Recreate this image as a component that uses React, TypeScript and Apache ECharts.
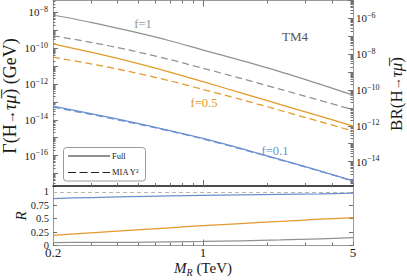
import React, { useEffect, useRef } from "react";
import * as echarts from "echarts";

// ---- data ----
const massTeV = [0.2, 0.3, 0.45, 0.7, 1, 1.5, 2.3, 3.5, 5];
// log10 of Γ(H→τμ̄) in GeV
const log10GammaFullF1 = [-8.14, -8.55, -9.02, -9.58, -10.1, -10.68, -11.32, -12.01, -12.62];
const log10GammaMiaF1 = [-9.3, -9.67, -10.09, -10.63, -11.12, -11.68, -12.3, -12.91, -13.44];
const log10GammaFullF05 = [-9.76, -10.22, -10.72, -11.33, -11.87, -12.49, -13.15, -13.79, -14.35];
const log10GammaMiaF05 = [-10.5, -10.87, -11.29, -11.82, -12.3, -12.86, -13.48, -14.1, -14.63];
const log10GammaFullF01 = [-13.23, -13.65, -14.09, -14.6, -15.04, -15.6, -16.23, -16.85, -17.41];
const log10GammaMiaF01 = [-13.29, -13.7, -14.13, -14.63, -15.07, -15.63, -16.25, -16.87, -17.42];
// R = MIA / Full
const ratioF1 = [0.055, 0.057, 0.06, 0.068, 0.075, 0.088, 0.103, 0.125, 0.145];
const ratioF05 = [0.19, 0.235, 0.28, 0.33, 0.37, 0.41, 0.45, 0.49, 0.52];
const ratioF01 = [0.875, 0.895, 0.91, 0.925, 0.935, 0.943, 0.952, 0.962, 0.975];
// log10(BR) - log10(Γ/GeV)
const log10BrMinusGamma = 2.335;

// ---- axes / ticks ----
const xLabelTeV = [0.2, 1, 5];
const xMajorTeV = [1];
const xMinorTeV = [0.2, 0.3, 0.4, 0.5, 0.6, 0.7, 0.8, 0.9, 1, 2, 3, 4, 5];
const gammaLabelExps = [-16, -14, -12, -10, -8];
const brLabelExps = [-14, -12, -10, -8, -6];
const ratioTicks = [0, 0.25, 0.5, 0.75, 1];
const gammaRange = [-17.7, -7.33];
const ratioRange = [0, 1.11];

// ---- texts ----
const curveLabels = ["f=1", "f=0.5", "f=0.1"];
const legendLabels = ["Full", "MIA Y²"];
const panelTag = "TM4";

const serif = "'Liberation Serif','Times New Roman',serif";
const frameGray = "#9a9a9a";
const tickGray = "#707070";
const textColor = "#1a1a1a";
const cGray = "#8d958a";
const cOrange = "#e39a2a";
const cBlue = "#6a90d0";

const lx = (v: number) => Math.log10(v);

function decadeTicks(lo: number, hi: number) {
  const out: number[] = [];
  for (let e = Math.ceil(lo); e <= Math.floor(hi); e++) out.push(e);
  return out;
}
function minorTicks(lo: number, hi: number) {
  const out: number[] = [];
  for (let e = Math.floor(lo) - 1; e <= Math.ceil(hi); e++) {
    for (let k = 2; k <= 9; k++) {
      const v = e + Math.log10(k);
      if (v > lo && v < hi) out.push(v);
    }
  }
  return out;
}

export default function App() {
  const ref = useRef<HTMLDivElement>(null);
  useEffect(() => {
    if (!ref.current) return;
    const chart = echarts.init(ref.current, undefined, { renderer: "svg" });
    const X0 = lx(0.2);
    const X1 = lx(5);
    const brRange = [gammaRange[0] + log10BrMinusGamma, gammaRange[1] + log10BrMinusGamma];

    const powRich = {
      b: { fontSize: 11, fontFamily: serif, color: textColor, lineHeight: 14 },
      e: { fontSize: 8, fontFamily: serif, color: textColor, lineHeight: 14, verticalAlign: "top" },
    };
    const powFmt = (v: number) => `{b|10}{e|−${Math.round(Math.abs(v))}}`;

    const xBase: any = {
      type: "value",
      min: X0,
      max: X1,
      splitLine: { show: false },
      axisLabel: { show: false },
    };
    const lineOn = (color: string, width: number) => ({ show: true, onZero: false, lineStyle: { color, width } });
    const lineOff = { show: false, onZero: false };
    const xMinorTick = { show: true, inside: true, length: 3, customValues: xMinorTeV.map(lx), lineStyle: { color: tickGray, width: 1 } };
    const xMajorTick = { show: true, inside: true, length: 6, customValues: xMajorTeV.map(lx), lineStyle: { color: tickGray, width: 1 } };

    const mk = (name: string, arr: number[], color: string, dashed: boolean, xi: number, yi: number) => ({
      name,
      type: "line",
      xAxisIndex: xi,
      yAxisIndex: yi,
      data: massTeV.map((m, i) => [lx(m), arr[i]]),
      showSymbol: false,
      symbol: "none",
      smooth: 0.3,
      lineStyle: { color, width: 1.25, type: dashed ? [7, 4] : "solid" },
      z: 3,
    });

    const titleRich = (size: number) => ({
      n: { fontSize: size, fontFamily: serif, fill: textColor },
      a: { fontSize: size - 4, fontFamily: serif, fill: textColor },
      i: { fontSize: size, fontFamily: serif, fontStyle: "italic", fill: textColor },
    });

    const option: any = {
      animation: false,
      grid: [
        { left: 53, top: 0.5, width: 300, height: 185.5, containLabel: false },
        { left: 53, top: 186, width: 300, height: 59.5, containLabel: false },
      ],
      xAxis: [
        { ...xBase, gridIndex: 0, position: "bottom", axisLine: lineOn("#111", 1.5), axisTick: xMinorTick, z: 5 },
        { ...xBase, gridIndex: 0, position: "bottom", axisLine: lineOff, axisTick: xMajorTick },
        { ...xBase, gridIndex: 0, position: "top", axisLine: lineOn(frameGray, 1), axisTick: xMinorTick },
        { ...xBase, gridIndex: 0, position: "top", axisLine: lineOff, axisTick: xMajorTick },
        { ...xBase, gridIndex: 1, position: "bottom", axisLine: lineOn(frameGray, 1), axisTick: xMinorTick },
        {
          ...xBase,
          gridIndex: 1,
          position: "bottom",
          axisLine: lineOff,
          axisTick: xMajorTick,
          axisLabel: {
            show: true,
            customValues: xLabelTeV.map(lx),
            formatter: (v: number) => String(+Math.pow(10, v).toPrecision(3)),
            margin: 0,
            fontSize: 13,
            fontFamily: serif,
            color: textColor,
          },
        },
      ],
      yAxis: [
        {
          type: "value", gridIndex: 0, position: "left", min: gammaRange[0], max: gammaRange[1],
          splitLine: { show: false },
          axisLine: lineOn(frameGray, 1),
          axisTick: { show: true, inside: true, length: 5, customValues: decadeTicks(gammaRange[0], gammaRange[1]), lineStyle: { color: tickGray } },
          axisLabel: { show: true, customValues: gammaLabelExps, formatter: powFmt, rich: powRich, margin: 5 },
        },
        {
          type: "value", gridIndex: 0, position: "left", min: gammaRange[0], max: gammaRange[1],
          splitLine: { show: false }, axisLine: lineOff, axisLabel: { show: false },
          axisTick: { show: true, inside: true, length: 2.5, customValues: minorTicks(gammaRange[0], gammaRange[1]), lineStyle: { color: tickGray } },
        },
        {
          type: "value", gridIndex: 0, position: "right", min: brRange[0], max: brRange[1],
          splitLine: { show: false },
          axisLine: lineOn(frameGray, 1),
          axisTick: { show: true, inside: true, length: 5, customValues: decadeTicks(brRange[0], brRange[1]), lineStyle: { color: tickGray } },
          axisLabel: { show: true, customValues: brLabelExps, formatter: powFmt, rich: powRich, margin: 3 },
        },
        {
          type: "value", gridIndex: 0, position: "right", min: brRange[0], max: brRange[1],
          splitLine: { show: false }, axisLine: lineOff, axisLabel: { show: false },
          axisTick: { show: true, inside: true, length: 2.5, customValues: minorTicks(brRange[0], brRange[1]), lineStyle: { color: tickGray } },
        },
        {
          type: "value", gridIndex: 1, position: "left", min: ratioRange[0], max: ratioRange[1],
          splitLine: { show: false },
          axisLine: lineOn(frameGray, 1),
          axisTick: { show: true, inside: true, length: 4, customValues: ratioTicks, lineStyle: { color: tickGray } },
          axisLabel: { show: true, customValues: ratioTicks, formatter: (v: number) => String(v), margin: 4, fontSize: 10.5, fontFamily: serif, color: textColor },
        },
        {
          type: "value", gridIndex: 1, position: "right", min: ratioRange[0], max: ratioRange[1],
          splitLine: { show: false },
          axisLine: lineOn(frameGray, 1),
          axisTick: { show: true, inside: true, length: 4, customValues: ratioTicks, lineStyle: { color: tickGray } },
          axisLabel: { show: false },
        },
      ],
      series: [
        mk("f1 full", log10GammaFullF1, cGray, false, 0, 0),
        mk("f1 mia", log10GammaMiaF1, cGray, true, 0, 0),
        mk("f05 full", log10GammaFullF05, cOrange, false, 0, 0),
        mk("f05 mia", log10GammaMiaF05, cOrange, true, 0, 0),
        mk("f01 full", log10GammaFullF01, cBlue, false, 0, 0),
        mk("f01 mia", log10GammaMiaF01, cBlue, true, 0, 0),
        {
          ...mk("R f01", ratioF01, cBlue, false, 4, 4),
          markLine: {
            silent: true,
            symbol: "none",
            label: { show: false },
            lineStyle: { color: "#b5b5b5", type: [4, 3], width: 1 },
            data: [{ yAxis: 1 }],
          },
        },
        mk("R f05", ratioF05, cOrange, false, 4, 4),
        mk("R f1", ratioF1, cGray, false, 4, 4),
      ],
      graphic: [
        {
          type: "text", x: 10, y: 96, rotation: Math.PI / 2,
          style: {
            text: "{n|Γ(H}{a|→}{i|τμ̅}{n|) (GeV)}",
            align: "center", verticalAlign: "middle",
            rich: titleRich(18),
          },
        },
        {
          type: "text", x: 396, y: 94, rotation: Math.PI / 2,
          style: {
            text: "{n|BR(H}{a|→}{i|τμ̅}{n|)}",
            align: "center", verticalAlign: "middle",
            rich: titleRich(17),
          },
        },
        {
          type: "text", x: 21, y: 216, rotation: Math.PI / 2,
          style: { text: "R", align: "center", verticalAlign: "middle", font: `italic 15px ${serif}`, fill: textColor },
        },
        {
          type: "text", x: 203, y: 268,
          style: {
            text: "{m|M}{s|R}{n| (TeV)}",
            align: "center", verticalAlign: "middle",
            rich: {
              m: { fontSize: 15, fontFamily: serif, fontStyle: "italic", fill: textColor, lineHeight: 18 },
              s: { fontSize: 10, fontFamily: serif, fontStyle: "italic", fill: textColor, lineHeight: 18, verticalAlign: "bottom" },
              n: { fontSize: 15, fontFamily: serif, fill: textColor, lineHeight: 18 },
            },
          },
        },
        { type: "text", x: 295, y: 36, style: { text: panelTag, align: "center", verticalAlign: "middle", font: `13px ${serif}`, fill: "#555" } },
        { type: "text", x: 143, y: 24, style: { text: curveLabels[0], align: "center", verticalAlign: "middle", font: `12.5px ${serif}`, fill: cGray } },
        { type: "text", x: 204, y: 103, style: { text: curveLabels[1], align: "center", verticalAlign: "middle", font: `12.5px ${serif}`, fill: cOrange } },
        { type: "text", x: 275, y: 151, style: { text: curveLabels[2], align: "center", verticalAlign: "middle", font: `12.5px ${serif}`, fill: cBlue } },
        {
          type: "group",
          children: [
            { type: "rect", shape: { x: 63.5, y: 147.5, width: 82, height: 33.5, r: 3 }, style: { fill: "#fff", stroke: "#9a9a9a", lineWidth: 1 }, z: 10 },
            { type: "line", shape: { x1: 68, y1: 156, x2: 110, y2: 156 }, style: { stroke: "#222", lineWidth: 1.2 }, z: 11 },
            { type: "line", shape: { x1: 68, y1: 172.5, x2: 110, y2: 172.5 }, style: { stroke: "#222", lineWidth: 1.2, lineDash: [8, 3.5] }, z: 11 },
            { type: "text", x: 112, y: 156, style: { text: legendLabels[0], verticalAlign: "middle", font: `8.5px ${serif}`, fill: textColor }, z: 11 },
            { type: "text", x: 112, y: 172, style: { text: legendLabels[1], verticalAlign: "middle", font: `8.5px ${serif}`, fill: textColor }, z: 11 },
          ],
        },
      ],
    };
    chart.setOption(option);
    return () => chart.dispose();
  }, []);
  return <div ref={ref} style={{ position: "absolute", left: 0, top: 0, width: 407, height: 280 }} />;
}
